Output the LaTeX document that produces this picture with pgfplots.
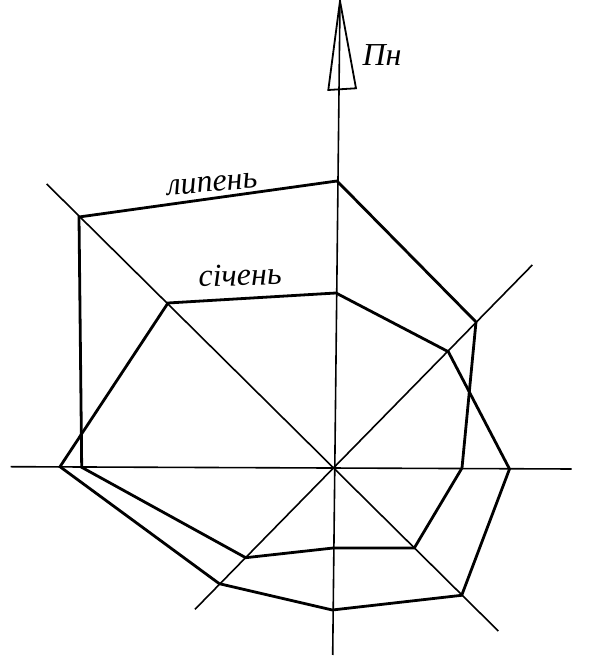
\documentclass[border=0pt]{standalone}
\usepackage{fontspec}
\setmainfont{Liberation Serif}
\usepackage{pgfplots}
\pgfplotsset{compat=1.18}

% wind rose: points in picture units (1 unit = 1pt), y measured upward
\pgfplotstableread{
x     y
337   480
476   339
462   193
414.3 113
333.3 113
245.7 103.3
81.7  193.7
79    444
}\july
\pgfplotstableread{
x     y
336   368
448.3 309.3
509.5 192
461.7 65.7
332.3 51
219.3 77.3
60    194.3
168   358
}\january

\begin{document}
\begin{tikzpicture}
\path[use as bounding box] (0,0) rectangle (606pt,661pt);
\begin{axis}[
    at={(0,0)}, anchor=south west,
    scale only axis, width=606pt, height=661pt,
    xmin=0, xmax=606, ymin=0, ymax=661,
    hide axis, clip=false,
    every axis plot/.append style={black, mark=none}
]
% direction lines
\addplot[line width=1.6pt] coordinates {(332.7,6) (340,660)};
\addplot[line width=1.6pt] coordinates {(10.7,194.3) (571.7,192)};
\addplot[line width=1.6pt] coordinates {(46.7,477) (498.3,30)};
\addplot[line width=1.6pt] coordinates {(532.3,396) (195,51.7)};
% north arrow
\addplot[line width=1.8pt, line join=miter] coordinates {(340,660) (328.3,571) (356,572.7)} -- cycle;
% months
\addplot[line width=2.8pt, line join=miter] table {\july} -- cycle;
\addplot[line width=2.8pt, line join=miter] table {\january} -- cycle;

\node[font=\fontsize{32}{32}\selectfont\itshape] at (axis cs:382,606) {Пн};
\node[font=\fontsize{32}{32}\selectfont\itshape, rotate=5] at (axis cs:212,477) {липень};
\node[font=\fontsize{32}{32}\selectfont\itshape, rotate=2] at (axis cs:240,386) {січень};
\end{axis}
\end{tikzpicture}
\end{document}
